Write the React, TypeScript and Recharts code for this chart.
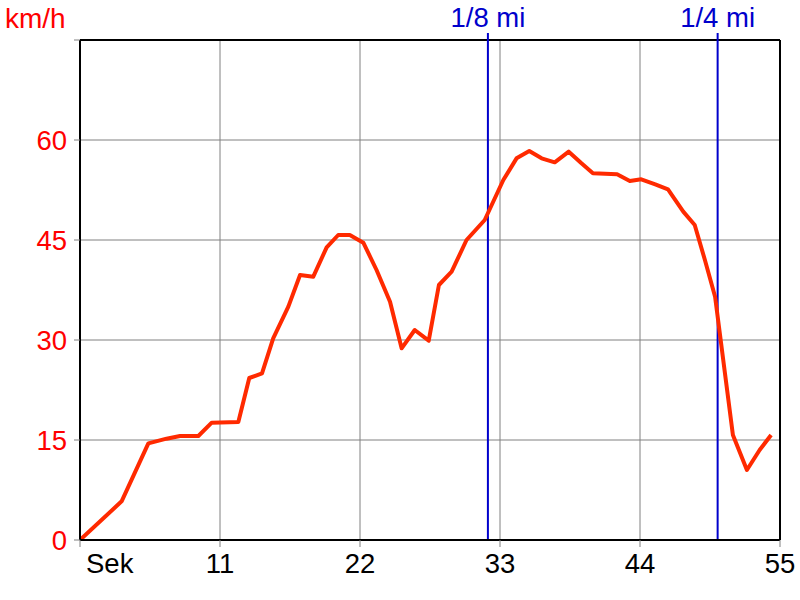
import React from 'react';
import { LineChart, Line, XAxis, YAxis, CartesianGrid, ReferenceLine } from 'recharts';

const seconds = [0, 3.27, 5.37, 6.8, 7.86, 9.3, 10.35, 12.44, 13.3, 14.3, 15.18, 16.37, 17.29, 18.33, 19.38, 20.29, 21.2, 22.26, 23.3, 24.36, 25.27, 26.3, 27.4, 28.2, 29.2, 30.37, 31.8, 33.26, 34.3, 35.3, 36.27, 37.3, 38.4, 39.4, 40.3, 42.2, 43.2, 44.1, 45.2, 46.2, 47.4, 48.3, 49.1, 49.9, 51.3, 52.4, 53.4, 54.3];
const speeds = [0, 5.8, 14.5, 15.2, 15.6, 15.6, 17.6, 17.7, 24.3, 25.0, 30.25, 35, 39.75, 39.5, 43.9, 45.75, 45.75, 44.6, 40.5, 35.75, 28.75, 31.5, 29.9, 38.25, 40.25, 45, 48, 54, 57.25, 58.35, 57.25, 56.65, 58.25, 56.5, 55, 54.85, 53.85, 54.1, 53.35, 52.6, 49.25, 47.25, 42, 36.5, 15.75, 10.5, 13.5, 15.75];

const xTicks = [0, 11, 22, 33, 44, 55];
const yTicks = [0, 15, 30, 45, 60, 75];
const markers = [
  { x: 32.05, label: '1/8 mi' },
  { x: 50.1, label: '1/4 mi' },
];

const data = seconds.map((t, i) => ({ t, v: speeds[i] }));

const FONT = '"Liberation Sans", Arial, sans-serif';
const FS = 27.5;

const XTick = (props: any) => {
  const { x, y, payload } = props;
  const isZero = payload.value === 0;
  return (
    <text
      x={isZero ? x + 6 : x}
      y={y}
      dy="0.71em"
      textAnchor={isZero ? 'start' : 'middle'}
      fill="#000"
      fontSize={FS}
      fontFamily={FONT}
    >
      {isZero ? 'Sek' : payload.value}
    </text>
  );
};

const YTick = (props: any) => {
  const { x, y, payload } = props;
  if (payload.value === 75) return null;
  return (
    <text x={x} y={y} dy="0.36em" textAnchor="end" fill="#ff0000" fontSize={FS} fontFamily={FONT}>
      {payload.value}
    </text>
  );
};

const MarkerLabel = (props: any) => {
  const { viewBox, text } = props;
  const x = viewBox.x;
  const top = viewBox.y;
  return (
    <g>
      <line x1={x} x2={x} y1={top - 7} y2={top} stroke="#0000cc" strokeWidth={2} />
      <text x={x} y={top - 13} textAnchor="middle" fill="#0000cc" fontSize={FS} fontFamily={FONT}>
        {text}
      </text>
    </g>
  );
};

export default function App() {
  return (
    <div style={{ position: 'absolute', left: 0, top: 0, width: 800, height: 600, background: '#fff' }}>
      <LineChart width={800} height={600} data={data} margin={{ top: 40, right: 20, bottom: 0, left: 0 }}>
        <CartesianGrid stroke="#808080" strokeWidth={1} vertical horizontal />
        <XAxis
          dataKey="t"
          type="number"
          domain={[0, 55]}
          ticks={xTicks}
          height={60}
          axisLine={{ stroke: '#000', strokeWidth: 2 }}
          tickLine={{ stroke: '#808080' }}
          tickSize={7}
          tickMargin={6}
          tick={<XTick />}
          interval={0}
          allowDataOverflow
        />
        <YAxis
          type="number"
          domain={[0, 75]}
          ticks={yTicks}
          width={80}
          axisLine={{ stroke: '#000', strokeWidth: 2 }}
          tickLine={{ stroke: '#808080' }}
          tickSize={6}
          tickMargin={7}
          tick={<YTick />}
          interval={0}
          allowDataOverflow
        />
        <ReferenceLine y={75} stroke="#000" strokeWidth={2} />
        <ReferenceLine x={55} stroke="#000" strokeWidth={2} />
        {markers.map((m) => (
          <ReferenceLine
            key={m.label}
            x={m.x}
            stroke="#0000cc"
            strokeWidth={2}
            label={<MarkerLabel text={m.label} />}
          />
        ))}
        <Line
          type="linear"
          dataKey="v"
          stroke="#ff2a00"
          strokeWidth={4}
          dot={false}
          isAnimationActive={false}
          strokeLinejoin="round"
        />
      </LineChart>
      <div
        style={{
          position: 'absolute',
          left: 5,
          top: 3,
          color: '#ff0000',
          fontSize: 28,
          fontFamily: FONT,
          lineHeight: '32px',
        }}
      >
        km/h
      </div>
    </div>
  );
}
